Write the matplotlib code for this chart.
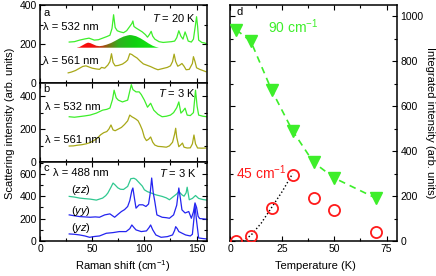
import numpy as np
import matplotlib
matplotlib.use('Agg')
import matplotlib.pyplot as plt
from matplotlib.colors import LinearSegmentedColormap
from matplotlib.ticker import MultipleLocator

plt.rcParams['font.family'] = ['Liberation Sans', 'DejaVu Sans']
plt.rcParams['mathtext.fontset'] = 'custom'
plt.rcParams['mathtext.rm'] = 'Liberation Sans'
plt.rcParams['mathtext.it'] = 'Liberation Sans:italic'
plt.rcParams['font.size'] = 7.5

# panel a, T = 20 K
a532_x = [28, 33, 38, 43, 47, 52, 56, 60, 64, 67, 69, 70.5, 72, 74, 77, 80, 83, 86, 88, 89, 90, 92, 95, 98, 101,
          103, 105, 106.5, 108, 110, 114, 118, 122, 126, 129, 131, 133, 135, 137, 139, 140.5, 142, 145, 147, 149,
          150, 151, 152, 155, 158, 160]
a532_y = [210, 212, 220, 226, 230, 220, 222, 230, 238, 245, 280, 350, 285, 268, 262, 258, 268, 290, 305, 318, 290,
          282, 272, 262, 248, 235, 250, 265, 240, 225, 212, 208, 210, 212, 215, 232, 268, 240, 225, 262, 240, 215,
          210, 225, 300, 340, 290, 220, 208, 205, 200]
a561_x = [27, 30, 34, 38, 41, 44, 47, 50, 54, 57, 59, 62, 65, 67, 68.5, 70, 72, 75, 79, 82, 84, 86, 88, 90, 93, 96,
          99, 102, 106, 110, 113, 116, 119, 122, 125, 127, 128.5, 130, 132, 134, 136, 138, 140, 143, 146, 147,
          148.5, 150, 153, 156, 159]
a561_y = [52, 56, 64, 76, 85, 88, 82, 76, 72, 70, 80, 76, 92, 110, 150, 105, 88, 90, 97, 108, 118, 150, 146, 138,
          128, 112, 98, 92, 84, 74, 68, 72, 76, 80, 88, 110, 148, 110, 86, 92, 100, 86, 68, 70, 100, 135, 110, 78,
          70, 64, 58]
# fitted peaks (45 and 90 cm-1) in panel a
fit_x = [35, 38, 41, 44, 46, 48, 51, 54, 57, 60, 64, 68, 72, 76, 80, 84, 86, 88, 92, 96, 100, 104, 108, 111, 114]
fit_y = [181, 185, 194, 203, 207, 205, 198, 191, 189, 191, 197, 205, 216, 228, 238, 244, 246, 245, 240, 230, 217,
         203, 191, 185, 181]
fit_base = 181

# panel b, T = 3 K
b532_x = [28, 33, 38, 43, 48, 54, 60, 64, 67, 69.5, 71, 73, 75, 79, 84, 86, 87.5, 89, 92, 95, 97, 100, 103, 106,
          109, 113, 117, 121, 125, 128, 131, 133, 135, 137, 139, 141, 144, 147, 149, 150.5, 152, 156, 160]
b532_y = [275, 272, 276, 280, 285, 297, 315, 320, 328, 380, 436, 390, 376, 365, 376, 430, 470, 440, 426, 426, 410,
          376, 333, 357, 315, 290, 275, 278, 285, 300, 330, 365, 297, 310, 327, 285, 282, 300, 436, 340, 285, 278,
          275]
b561_x = [28, 32, 36, 40, 44, 48, 52, 55, 58, 61, 64, 66, 68, 70, 72, 75, 78, 81, 84, 86, 88, 90, 92, 94, 96, 98,
          100, 102, 104, 106, 108, 110, 113, 117, 121, 124, 127, 129, 130, 131, 133, 135, 136.5, 138, 141, 144,
          146, 147.5, 149, 151, 155, 159]
b561_y = [97, 98, 102, 105, 110, 118, 132, 145, 165, 178, 185, 200, 225, 195, 190, 200, 210, 228, 250, 285, 275,
          268, 260, 250, 225, 195, 150, 130, 138, 152, 120, 103, 95, 93, 90, 98, 120, 170, 205, 150, 93, 105, 115,
          90, 85, 86, 110, 164, 110, 85, 84, 85]

# panel c, 488 nm, T = 3 K
czz_x = [28, 33, 38, 43, 48, 54, 60, 63, 65, 68, 70, 72, 74.5, 77, 80, 84, 87, 90, 92, 95, 98, 100, 103, 106, 111,
         117, 121, 124, 128, 131, 133, 136, 138, 140, 141, 143, 146, 149, 152, 156, 160]
czz_y = [398, 392, 383, 378, 374, 365, 383, 405, 428, 480, 517, 500, 475, 462, 460, 487, 556, 560, 550, 520, 490,
         457, 440, 430, 412, 398, 385, 368, 398, 420, 442, 412, 400, 430, 480, 368, 380, 406, 380, 370, 365]
cyy_x = [28, 33, 38, 43, 48, 53, 57, 62, 67, 71.5, 75, 78, 81, 84, 86, 88, 89, 90.5, 92, 95, 98.5, 101.5, 104,
         105.5, 107, 108.5, 110, 112, 117, 121, 124, 128, 131, 133, 134.5, 136, 139, 142.5, 145, 147, 148.5, 150,
         151.5, 153, 156, 160]
cyy_y = [233, 225, 218, 215, 212, 215, 212, 233, 242, 212, 240, 263, 280, 308, 360, 450, 473, 380, 293, 323, 323,
         308, 330, 420, 562, 430, 352, 233, 212, 208, 203, 233, 320, 473, 380, 278, 250, 263, 203, 260, 340, 300,
         220, 200, 198, 194]
cyz_x = [28, 33, 38, 43, 47.5, 52, 57, 63.5, 70, 76, 82.5, 86, 88, 90, 92, 97, 102, 104.5, 106, 108, 111, 116,
         122, 127, 129, 130, 131.5, 133, 136, 139.5, 144, 146, 147.5, 148.5, 150, 152, 156, 160]
cyz_y = [63, 60, 54, 45, 33, 40, 45, 69, 75, 84, 84, 110, 143, 120, 99, 84, 90, 120, 143, 100, 54, 33, 39, 54, 95,
         128, 110, 84, 70, 54, 45, 60, 200, 320, 180, 27, 22, 18]

# panel d
temp = [3, 10, 20, 30, 40, 50, 70]
int90 = [940, 888, 670, 490, 350, 280, 190]
int45 = [0, 22, 148, 295, 192, 139, 40]
line45_t = [6, 10, 15, 20, 25, 30]
line45_i = [0, 25, 80, 150, 220, 300]

green = '#3dee2a'
olive = '#a8a818'
blue = '#2424f0'
teal = '#30c890'
red = '#ff1a1a'

fig = plt.figure(figsize=(4.36, 2.76), dpi=100)
W, H = 436.0, 276.0

def add_ax(x0, y0, x1, y1):
    return fig.add_axes([x0 / W, 1 - y1 / H, (x1 - x0) / W, (y1 - y0) / H])

ax_a = add_ax(40, 5, 207, 83)
ax_b = add_ax(40, 83, 207, 162)
ax_c = add_ax(40, 162, 207, 241)
ax_d = add_ax(230, 5, 397, 241)

for ax in (ax_a, ax_b, ax_c, ax_d):
    ax.tick_params(which='both', direction='in', top=True, right=True, pad=2.5)
    ax.tick_params(which='major', length=3.5, width=0.8)
    ax.tick_params(which='minor', length=2, width=0.8)
    for s in ax.spines.values():
        s.set_linewidth(1.1)

for ax in (ax_a, ax_b, ax_c):
    ax.set_xlim(0, 160)
    ax.xaxis.set_major_locator(MultipleLocator(50))
    ax.xaxis.set_minor_locator(MultipleLocator(25))
    ax.yaxis.set_major_locator(MultipleLocator(200))
    ax.yaxis.set_minor_locator(MultipleLocator(100))
ax_a.tick_params(labelbottom=False)
ax_b.tick_params(labelbottom=False)

lw = 0.9
# panel a
ax_a.set_ylim(0, 400)
fill = ax_a.fill_between(fit_x, fit_base, fit_y, color='none', lw=0)
cmap = LinearSegmentedColormap.from_list(
    'rg', [(0.0, '#ff0a0a'), (0.2, '#f01010'), (0.33, '#a05010'), (0.5, '#30b020'), (0.7, '#10d010'),
           (1.0, '#10f010')])
grad = np.linspace(0, 1, 256).reshape(1, -1)
im = ax_a.imshow(grad, cmap=cmap, aspect='auto', extent=[35, 114, fit_base, max(fit_y)], zorder=1)
im.set_clip_path(fill.get_paths()[0], transform=ax_a.transData)
ax_a.plot(a532_x, a532_y, color=green, lw=lw, zorder=2)
ax_a.plot(a561_x, a561_y, color=olive, lw=lw, zorder=2)
ax_a.text(0.022, 0.90, 'a', transform=ax_a.transAxes, va='center', fontsize=8)
ax_a.text(0.018, 0.72, 'λ = 532 nm', transform=ax_a.transAxes, va='center', fontsize=8)
ax_a.text(0.018, 0.28, 'λ = 561 nm', transform=ax_a.transAxes, va='center', fontsize=8)
ax_a.text(0.67, 0.83, '$T$ = 20 K', transform=ax_a.transAxes, va='center', fontsize=8)

# panel b
ax_b.set_ylim(0, 480)
ax_b.plot(b532_x, b532_y, color=green, lw=lw)
ax_b.plot(b561_x, b561_y, color=olive, lw=lw)
ax_b.text(0.022, 0.92, 'b', transform=ax_b.transAxes, va='center', fontsize=8)
ax_b.text(0.03, 0.70, 'λ = 532 nm', transform=ax_b.transAxes, va='center', fontsize=8)
ax_b.text(0.03, 0.28, 'λ = 561 nm', transform=ax_b.transAxes, va='center', fontsize=8)
ax_b.text(0.707, 0.87, '$T$ = 3 K', transform=ax_b.transAxes, va='center', fontsize=8)

# panel c
ax_c.set_ylim(0, 705)
ax_c.plot(czz_x, czz_y, color=teal, lw=lw)
ax_c.plot(cyy_x, cyy_y, color=blue, lw=lw)
ax_c.plot(cyz_x, cyz_y, color=blue, lw=lw)
ax_c.text(0.022, 0.92, 'c', transform=ax_c.transAxes, va='center', fontsize=8)
ax_c.text(0.08, 0.86, 'λ = 488 nm', transform=ax_c.transAxes, va='center', fontsize=8)
ax_c.text(0.713, 0.86, '$T$ = 3 K', transform=ax_c.transAxes, va='center', fontsize=8)
ax_c.text(0.185, 0.645, '($zz$)', transform=ax_c.transAxes, va='center', fontsize=8)
ax_c.text(0.185, 0.38, '($yy$)', transform=ax_c.transAxes, va='center', fontsize=8)
ax_c.text(0.185, 0.165, '($yz$)', transform=ax_c.transAxes, va='center', fontsize=8)

# panel d
ax_d.set_xlim(0, 80)
ax_d.set_ylim(0, 1050)
ax_d.xaxis.set_major_locator(MultipleLocator(25))
ax_d.xaxis.set_minor_locator(MultipleLocator(12.5))
ax_d.yaxis.set_major_locator(MultipleLocator(200))
ax_d.yaxis.set_minor_locator(MultipleLocator(100))
ax_d.tick_params(labelleft=False, labelright=True)
ax_d.plot(temp, int90, ls=(0, (4, 3)), color=green, lw=1.2, zorder=1)
ax_d.plot(temp, int90, 'v', color=green, ms=9, mec=green, zorder=3)
ax_d.plot(line45_t, line45_i, ls=':', color='black', lw=1.0, zorder=1)
ax_d.plot(temp, int45, 'o', mfc='none', mec=red, ms=8, mew=1.3, zorder=3)
ax_d.text(0.04, 0.97, 'd', transform=ax_d.transAxes, va='center', fontsize=8)
ax_d.text(0.228, 0.91, '90 cm$^{-1}$', transform=ax_d.transAxes, va='center', fontsize=10, color=green)
ax_d.text(0.036, 0.288, '45 cm$^{-1}$', transform=ax_d.transAxes, va='center', fontsize=10, color=red)

fig.text(0.023, 0.554, 'Scattering intensity (arb. units)', rotation=90, ha='center', va='center', fontsize=8)
fig.text(0.987, 0.554, 'Integrated intensity (arb. units)', rotation=270, ha='center', va='center', fontsize=8)
fig.text(123 / W, 0.035, 'Raman shift (cm$^{-1}$)', ha='center', va='center', fontsize=8)
fig.text(315 / W, 0.035, 'Temperature (K)', ha='center', va='center', fontsize=8)

fig.savefig('out.png', dpi=100)
